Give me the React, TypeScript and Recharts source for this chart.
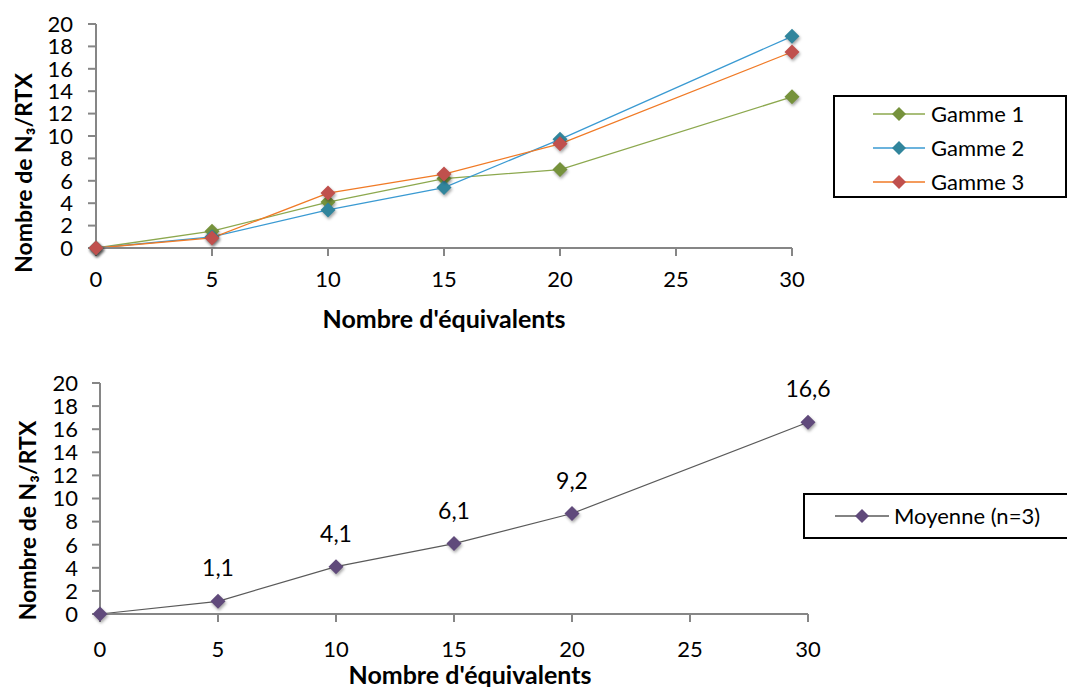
import React from 'react';
import { LineChart, Line, XAxis, YAxis, Legend, LabelList } from 'recharts';

const equivalents = [0, 5, 10, 15, 20, 30];
const gamme1 = [0, 1.5, 4.1, 6.2, 7.0, 13.5];
const gamme2 = [0, 1.0, 3.4, 5.4, 9.7, 18.9];
const gamme3 = [0, 0.9, 4.9, 6.6, 9.3, 17.5];
const moyenne = [0, 1.1, 4.1, 6.1, 8.7, 16.6];
const moyenneLabels = ['', '1,1', '4,1', '6,1', '9,2', '16,6'];
const xTicks = [0, 5, 10, 15, 20, 25, 30];
const yTicks = [0, 2, 4, 6, 8, 10, 12, 14, 16, 18, 20];

const topData = equivalents.map((x, i) => ({ x, g1: gamme1[i], g2: gamme2[i], g3: gamme3[i] }));
const bottomData = equivalents.map((x, i) => ({ x, m: moyenne[i], label: moyenneLabels[i] }));

const FONT = 'Lato, "Open Sans", sans-serif';
const AXIS = '#868686';

const series = [
  { key: 'g1', name: 'Gamme 1', line: '#8CA84E', marker: '#76923C' },
  { key: 'g2', name: 'Gamme 2', line: '#3A9AD2', marker: '#31859C' },
  { key: 'g3', name: 'Gamme 3', line: '#F07A26', marker: '#C0504D' },
];
const meanSeries = { key: 'm', name: 'Moyenne (n=3)', line: '#5A5A5A', marker: '#604A7B' };

const diamondPath = (cx: number, cy: number, r: number) =>
  `M${cx},${cy - r}L${cx + r},${cy}L${cx},${cy + r}L${cx - r},${cy}Z`;

const makeDot = (fill: string) => (p: any) => (
  <path
    key={`d-${p.index}`}
    d={diamondPath(p.cx, p.cy, 7.5)}
    fill={fill}
    style={{ filter: 'drop-shadow(1px 2px 1.5px rgba(0,0,0,0.35))' }}
  />
);

const LegendBox = ({ items, width, height, rowTop, rowGap }: any) => (
  <div
    style={{
      boxSizing: 'border-box',
      width,
      height,
      border: '2px solid #000',
      background: '#fff',
      position: 'relative',
      fontFamily: FONT,
    }}
  >
    {items.map((it: any, i: number) => (
      <div
        key={it.name}
        style={{ position: 'absolute', left: 0, top: rowTop + i * rowGap - 15, height: 30, display: 'flex', alignItems: 'center' }}
      >
        <svg width={it.textLeft} height={30} style={{ display: 'block' }}>
          <line x1={it.lineFrom} x2={it.lineTo} y1={15} y2={15} stroke={it.line} strokeWidth={1.3} />
          <path d={diamondPath((it.lineFrom + it.lineTo) / 2, 15, 7)} fill={it.marker} />
        </svg>
        <span style={{ fontSize: 22, color: '#000', whiteSpace: 'nowrap', lineHeight: '30px' }}>{it.name}</span>
      </div>
    ))}
  </div>
);

const yTitle = (dy: number, xBase: number) => (props: any) => {
  const vb = props.viewBox || {};
  const cy = vb.y + vb.height / 2 + dy;
  return (
    <text
      x={xBase}
      y={cy}
      transform={`rotate(-90, ${xBase}, ${cy})`}
      textAnchor="middle"
      fontFamily={FONT}
      fontWeight="bold"
      fontSize={23}
      fill="#000"
    >
      Nombre de N₃/RTX
    </text>
  );
};

const xTitle = (dx: number, baseline: number) => (props: any) => {
  const vb = props.viewBox || {};
  const cx = vb.x + vb.width / 2 + dx;
  return (
    <text x={cx} y={vb.y + baseline} textAnchor="middle" fontFamily={FONT} fontWeight="bold" fontSize={25} fill="#000">
      Nombre d'équivalents
    </text>
  );
};

const tickStyle = { fontSize: 22, fill: '#000', fontFamily: FONT };

export default function App() {
  return (
    <div style={{ position: 'absolute', left: 0, top: 0, width: 1067, height: 687, background: '#fff' }}>
      <div style={{ position: 'absolute', left: 0, top: 0 }}>
        <LineChart width={1067} height={340} data={topData} margin={{ top: 24, right: 275, bottom: 0, left: 0 }} style={{ fontFamily: FONT }}>
          <XAxis
            dataKey="x"
            type="number"
            domain={[0, 30]}
            ticks={xTicks}
            interval={0}
            stroke={AXIS}
            strokeWidth={2}
            tickSize={8}
            tickMargin={15}
            tick={tickStyle}
            height={92}
            label={{ content: xTitle(0, 80) }}
          />
          <YAxis
            type="number"
            domain={[0, 20]}
            ticks={yTicks}
            interval={0}
            width={96}
            stroke={AXIS}
            strokeWidth={2}
            tickSize={8}
            tickMargin={15}
            tick={tickStyle}
            label={{ content: yTitle(37, 32) }}
          />
          {series.map((s) => (
            <Line
              key={s.key}
              dataKey={s.key}
              name={s.name}
              stroke={s.line}
              strokeWidth={1.3}
              dot={makeDot(s.marker)}
              activeDot={false}
              isAnimationActive={false}
            />
          ))}
          <Legend
            layout="horizontal"
            verticalAlign="middle"
            align="center"
            wrapperStyle={{ left: 833, top: 95, width: 234, height: 103 }}
            content={() => (
              <LegendBox
                width={234}
                height={103}
                rowTop={17}
                rowGap={34}
                items={series.map((s) => ({ ...s, lineFrom: 38, lineTo: 90, textLeft: 96 }))}
              />
            )}
          />
        </LineChart>
      </div>
      <div style={{ position: 'absolute', left: 0, top: 340 }}>
        <LineChart width={1067} height={347} data={bottomData} margin={{ top: 43, right: 259, bottom: 0, left: 0 }} style={{ fontFamily: FONT }}>
          <XAxis
            dataKey="x"
            type="number"
            domain={[0, 30]}
            ticks={xTicks}
            interval={0}
            stroke={AXIS}
            strokeWidth={2}
            tickSize={8}
            tickMargin={19}
            tick={tickStyle}
            height={73}
            label={{ content: xTitle(16, 70) }}
          />
          <YAxis
            type="number"
            domain={[0, 20]}
            ticks={yTicks}
            interval={0}
            width={100}
            stroke={AXIS}
            strokeWidth={2}
            tickSize={8}
            tickMargin={14}
            tick={tickStyle}
            label={{ content: yTitle(22, 36) }}
          />
          <Line
            dataKey={meanSeries.key}
            name={meanSeries.name}
            stroke={meanSeries.line}
            strokeWidth={1.2}
            dot={makeDot(meanSeries.marker)}
            activeDot={false}
            isAnimationActive={false}
          >
            <LabelList dataKey="label" position="top" offset={25} fill="#000" fontSize={23} fontFamily={FONT} />
          </Line>
          <Legend
            layout="horizontal"
            verticalAlign="middle"
            align="center"
            wrapperStyle={{ left: 803, top: 153, width: 270, height: 46 }}
            content={() => (
              <LegendBox
                width={270}
                height={46}
                rowTop={21}
                rowGap={0}
                items={[{ ...meanSeries, lineFrom: 30, lineTo: 84, textLeft: 89 }]}
              />
            )}
          />
        </LineChart>
      </div>
    </div>
  );
}
